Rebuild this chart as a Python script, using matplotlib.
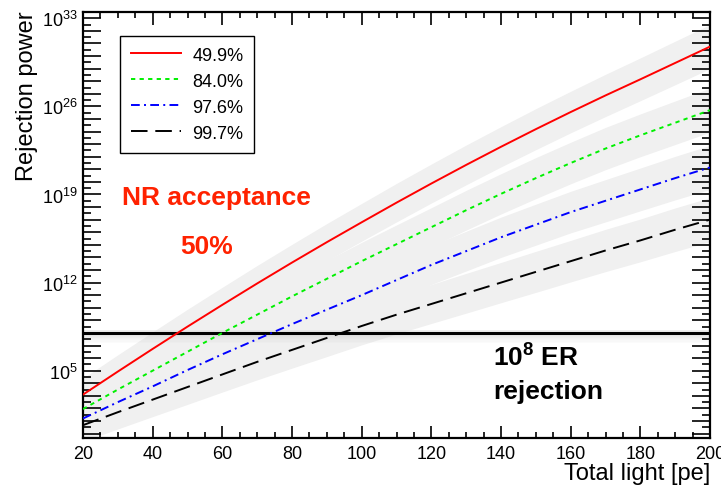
import numpy as np
import matplotlib.pyplot as plt
from matplotlib.ticker import FixedLocator, FuncFormatter, NullFormatter

plt.rcParams['font.family'] = ['Liberation Sans', 'DejaVu Sans']
plt.rcParams['mathtext.fontset'] = 'custom'
plt.rcParams['mathtext.rm'] = 'Liberation Sans'
plt.rcParams['mathtext.it'] = 'Liberation Sans:italic'
plt.rcParams['mathtext.bf'] = 'Liberation Sans:bold'

# total light [pe]
light = [20, 30, 40, 50, 60, 70, 80, 90, 100, 110, 120, 130, 140, 150, 160, 170, 180, 190, 200]
# log10 of rejection power
rej_499 = [3.1, 4.93, 6.73, 8.5, 10.23, 11.93, 13.59, 15.21, 16.79, 18.35, 19.87,
           21.35, 22.79, 24.19, 25.55, 26.87, 28.15, 29.45, 30.75]
rej_840 = [1.95, 3.5, 5.0, 6.5, 8.0, 9.45, 10.9, 12.3, 13.7, 15.05, 16.4,
           17.75, 19.05, 20.3, 21.5, 22.65, 23.7, 24.7, 25.7]
rej_976 = [1.2, 2.5, 3.75, 5.05, 6.3, 7.5, 8.7, 9.85, 11.0, 12.2, 13.4,
           14.5, 15.6, 16.6, 17.6, 18.5, 19.4, 20.3, 21.15]
rej_997 = [0.67, 1.7, 2.7, 3.7, 4.7, 5.7, 6.65, 7.6, 8.55, 9.45, 10.3,
           11.15, 12.0, 12.85, 13.7, 14.55, 15.35, 16.2, 17.0]
band_half = [1.3, 1.33, 1.35, 1.38, 1.4, 1.43, 1.45, 1.48, 1.5, 1.53, 1.55,
             1.58, 1.6, 1.63, 1.65, 1.68, 1.7, 1.73, 1.75]
labels = ["49.9%", "84.0%", "97.6%", "99.7%"]
er_rejection = 1e8

series = [rej_499, rej_840, rej_976, rej_997]
colors = ["#ff0000", "#00f000", "#0000ff", "#000000"]
dashes = [None, (2.2, 2.2), (4.5, 2.2, 1.0, 2.2), (8.5, 4.0)]

fig = plt.figure(figsize=(7.21, 4.89), dpi=100)
ax = fig.add_axes([83 / 721, 1 - 439 / 489, 627 / 721, 426 / 489])

x = np.array(light)
hw = np.array(band_half)
for s in series:
    s = np.array(s)
    ax.fill_between(x, 10 ** (s - hw), 10 ** (s + hw), color="#f0f0f0", lw=0, zorder=1)

# shadow of the ER line
for k in range(8):
    ax.axhspan(10 ** (8 - 0.1 * (k + 1)), 10 ** (8 - 0.1 * k), color="#c8c8c8",
               alpha=0.5 * (1 - k / 8), lw=0, zorder=1.5)
ax.axhspan(10 ** 8, 10 ** 8.25, color="#dddddd", alpha=0.5, lw=0, zorder=1.5)
ax.axhline(er_rejection, color="black", lw=2.2, zorder=3)

for s, c, d, lab in zip(series, colors, dashes, labels):
    line, = ax.plot(x, 10 ** np.array(s), color=c, lw=1.4, label=lab, zorder=4)
    if d is not None:
        line.set_dashes(d)

ax.set_yscale("log")
ax.set_xlim(20, 200)
ax.set_ylim(10 ** -0.35, 10 ** 33.5)

ax.xaxis.set_major_locator(FixedLocator(np.arange(20, 201, 20)))
ax.xaxis.set_minor_locator(FixedLocator(np.arange(20, 201, 5)))
ax.yaxis.set_major_locator(FixedLocator([10.0 ** k for k in range(0, 34)]))
ax.yaxis.set_minor_locator(FixedLocator([10.0 ** (k + 0.5) for k in range(-1, 34)]))
ax.yaxis.set_major_formatter(FuncFormatter(
    lambda v, p: r"$10^{%d}$" % round(np.log10(v)) if round(np.log10(v)) in (5, 12, 19, 26, 33) else ""))
ax.yaxis.set_minor_formatter(NullFormatter())

ax.tick_params(which="both", direction="in", top=True, right=True, labelsize=13, width=1.2)
ax.tick_params(axis="x", which="major", length=9, pad=5)
ax.tick_params(axis="x", which="minor", length=4.5)
ax.tick_params(axis="y", which="major", length=13, pad=4)
ax.tick_params(axis="y", which="minor", length=6)
for sp in ax.spines.values():
    sp.set_linewidth(1.6)

fig.text(27 / 721, 1 - 96 / 489, "Rejection power", rotation=90, ha="center", va="center", fontsize=17)
fig.text(710 / 721, 1 - 474 / 489, "Total light [pe]", ha="right", va="center", fontsize=17)

ax.text(58.2, 10 ** 18.8, "NR acceptance", color="#ff2200", fontsize=19, fontweight="bold",
        ha="center", va="center", zorder=5)
ax.text(55.6, 10 ** 14.9, "50%", color="#ff2200", fontsize=19, fontweight="bold",
        ha="center", va="center", zorder=5)
ax.text(137.7, 10 ** 6.1, r"$\mathbf{10^{8}}$ ER", color="black", fontsize=19, fontweight="bold",
        ha="left", va="center", zorder=5)
ax.text(137.7, 10 ** 3.4, "rejection", color="black", fontsize=19, fontweight="bold",
        ha="left", va="center", zorder=5)

leg = ax.legend(loc="upper left", bbox_to_anchor=(0.059, 0.944), borderaxespad=0,
                fontsize=13, handlelength=2.8, handletextpad=0.6, labelspacing=0.5,
                fancybox=False, framealpha=1, edgecolor="black", borderpad=0.6)
leg.get_frame().set_linewidth(1.0)
leg.set_zorder(6)

fig.savefig("out.png", dpi=100)
